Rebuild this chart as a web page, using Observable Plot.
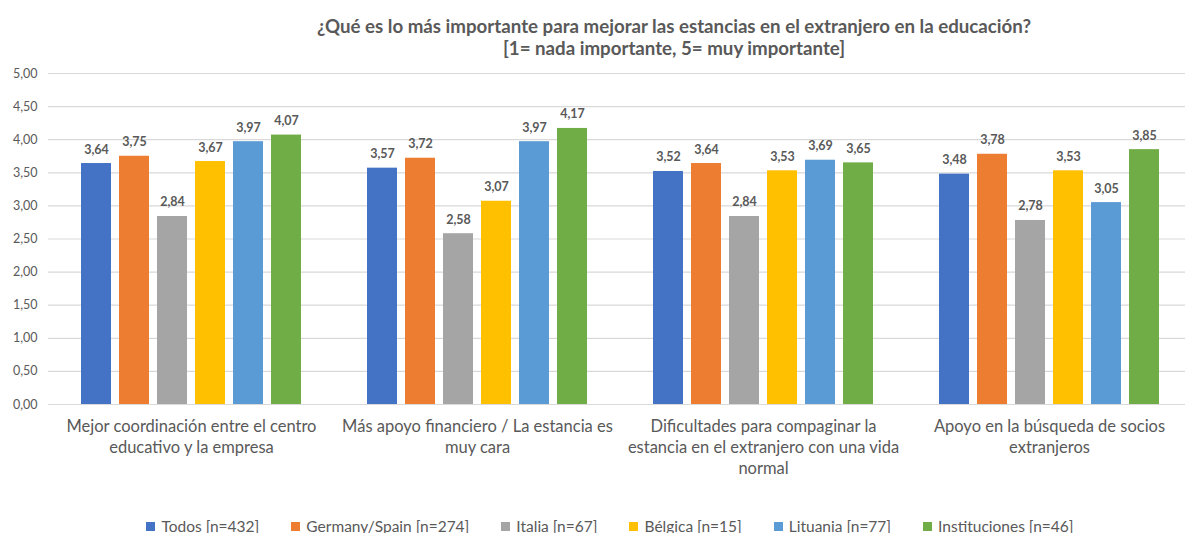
<!DOCTYPE html>
<html>
<head>
<meta charset="utf-8">
<script src="https://cdn.jsdelivr.net/npm/d3@7"></script>
<script src="https://cdn.jsdelivr.net/npm/@observablehq/plot@0.6"></script>
<style>
  html, body { margin: 0; padding: 0; background: #fff; overflow: hidden; }
  #wrap { position: relative; width: 1185px; height: 533px; font-family: Lato, "Open Sans", sans-serif; }
  #title { position: absolute; left: 0; top: 15px; width: 1348px; text-align: center; color: #595959;
           font-weight: bold; font-size: 18.7px; line-height: 22px; }
  #legend { position: absolute; left: 0; top: 516px; width: 1220px; display: flex; justify-content: center;
            gap: 32px; color: #595959; font-size: 15.5px; line-height: 20px; }
  #legend span.item { display: flex; align-items: center; white-space: nowrap; }
  #legend span.sw { width: 9px; height: 9px; margin-right: 6px; display: inline-block; }
  #chart { position: absolute; left: 0; top: 0; }
</style>
</head>
<body>
<div id="wrap">
  <div id="chart"></div>
  <div id="title"></div>
  <div id="legend"></div>
</div>
<script>
const titleLines = [
  "¿Qué es lo más importante para mejorar las estancias en el extranjero en la educación?",
  "[1= nada importante, 5= muy importante]"
];
const categories = [
  "Mejor coordinación entre el centro educativo y la empresa",
  "Más apoyo financiero / La estancia es muy cara",
  "Dificultades para compaginar la estancia en el extranjero con una vida normal",
  "Apoyo en la búsqueda de socios extranjeros"
];
const categoryLabels = [
  "Mejor coordinación entre el centro\neducativo y la empresa",
  "Más apoyo financiero / La estancia es\nmuy cara",
  "Dificultades para compaginar la\nestancia en el extranjero con una vida\nnormal",
  "Apoyo en la búsqueda de socios\nextranjeros"
];
const series = ["Todos [n=432]", "Germany/Spain [n=274]", "Italia [n=67]", "Bélgica [n=15]", "Lituania [n=77]", "Instituciones [n=46]"];
const colors = ["#4472C4", "#ED7D31", "#A5A5A5", "#FFC000", "#5B9BD5", "#70AD47"];
const todos        = [3.64, 3.57, 3.52, 3.48];
const germanySpain = [3.75, 3.72, 3.64, 3.78];
const italia       = [2.84, 2.58, 2.84, 2.78];
const belgica      = [3.67, 3.07, 3.53, 3.53];
const lituania     = [3.97, 3.97, 3.69, 3.05];
const instituciones= [4.07, 4.17, 3.65, 3.85];
const yTicks = [0, 0.5, 1, 1.5, 2, 2.5, 3, 3.5, 4, 4.5, 5];

const seriesValues = [todos, germanySpain, italia, belgica, lituania, instituciones];
const data = [];
categories.forEach((c, i) => {
  series.forEach((s, j) => data.push({cat: c, series: s, value: seriesValues[j][i]}));
});
const labelOf = new Map(categories.map((c, i) => [c, categoryLabels[i]]));
const fmt = v => v.toFixed(2).replace(".", ",");
const grey = "#595959";

document.getElementById("title").innerHTML = titleLines.map(t => `<div>${t}</div>`).join("");
document.getElementById("legend").innerHTML = series.map((s, j) =>
  `<span class="item"><span class="sw" style="background:${colors[j]}"></span>${s}</span>`).join("");

const chart = Plot.plot({
  width: 1185,
  height: 533,
  marginTop: 73,
  marginBottom: 129,
  marginLeft: 48,
  marginRight: 0,
  style: {fontFamily: "Lato, 'Open Sans', sans-serif", color: grey, background: "transparent"},
  fx: {domain: categories, range: [48, 1192], padding: 0, axis: null, label: null},
  x: {domain: series, paddingInner: 0.21, paddingOuter: 0.868, axis: null},
  y: {domain: [0, 5], axis: null},
  color: {domain: series, range: colors},
  marks: [
    Plot.gridY(yTicks, {stroke: "#d9d9d9", strokeOpacity: 1, strokeWidth: 1.2}),
    Plot.axisY(yTicks, {tickSize: 0, tickPadding: 11, tickFormat: fmt, fontSize: 12.5, fill: grey, label: null}),
    Plot.barY(data, {fx: "cat", x: "series", y: "value", fill: "series"}),
    Plot.text(data, {fx: "cat", x: "series", y: "value", text: d => fmt(d.value), dy: -14,
      fontSize: 12.5, fontWeight: "bold", fill: grey}),
    Plot.text(categories, {fx: d => d, text: d => labelOf.get(d), frameAnchor: "bottom",
      lineAnchor: "top", dy: 12, lineHeight: 1.28, fontSize: 16.5, fill: grey})
  ]
});
document.getElementById("chart").appendChild(chart);
</script>
</body>
</html>
